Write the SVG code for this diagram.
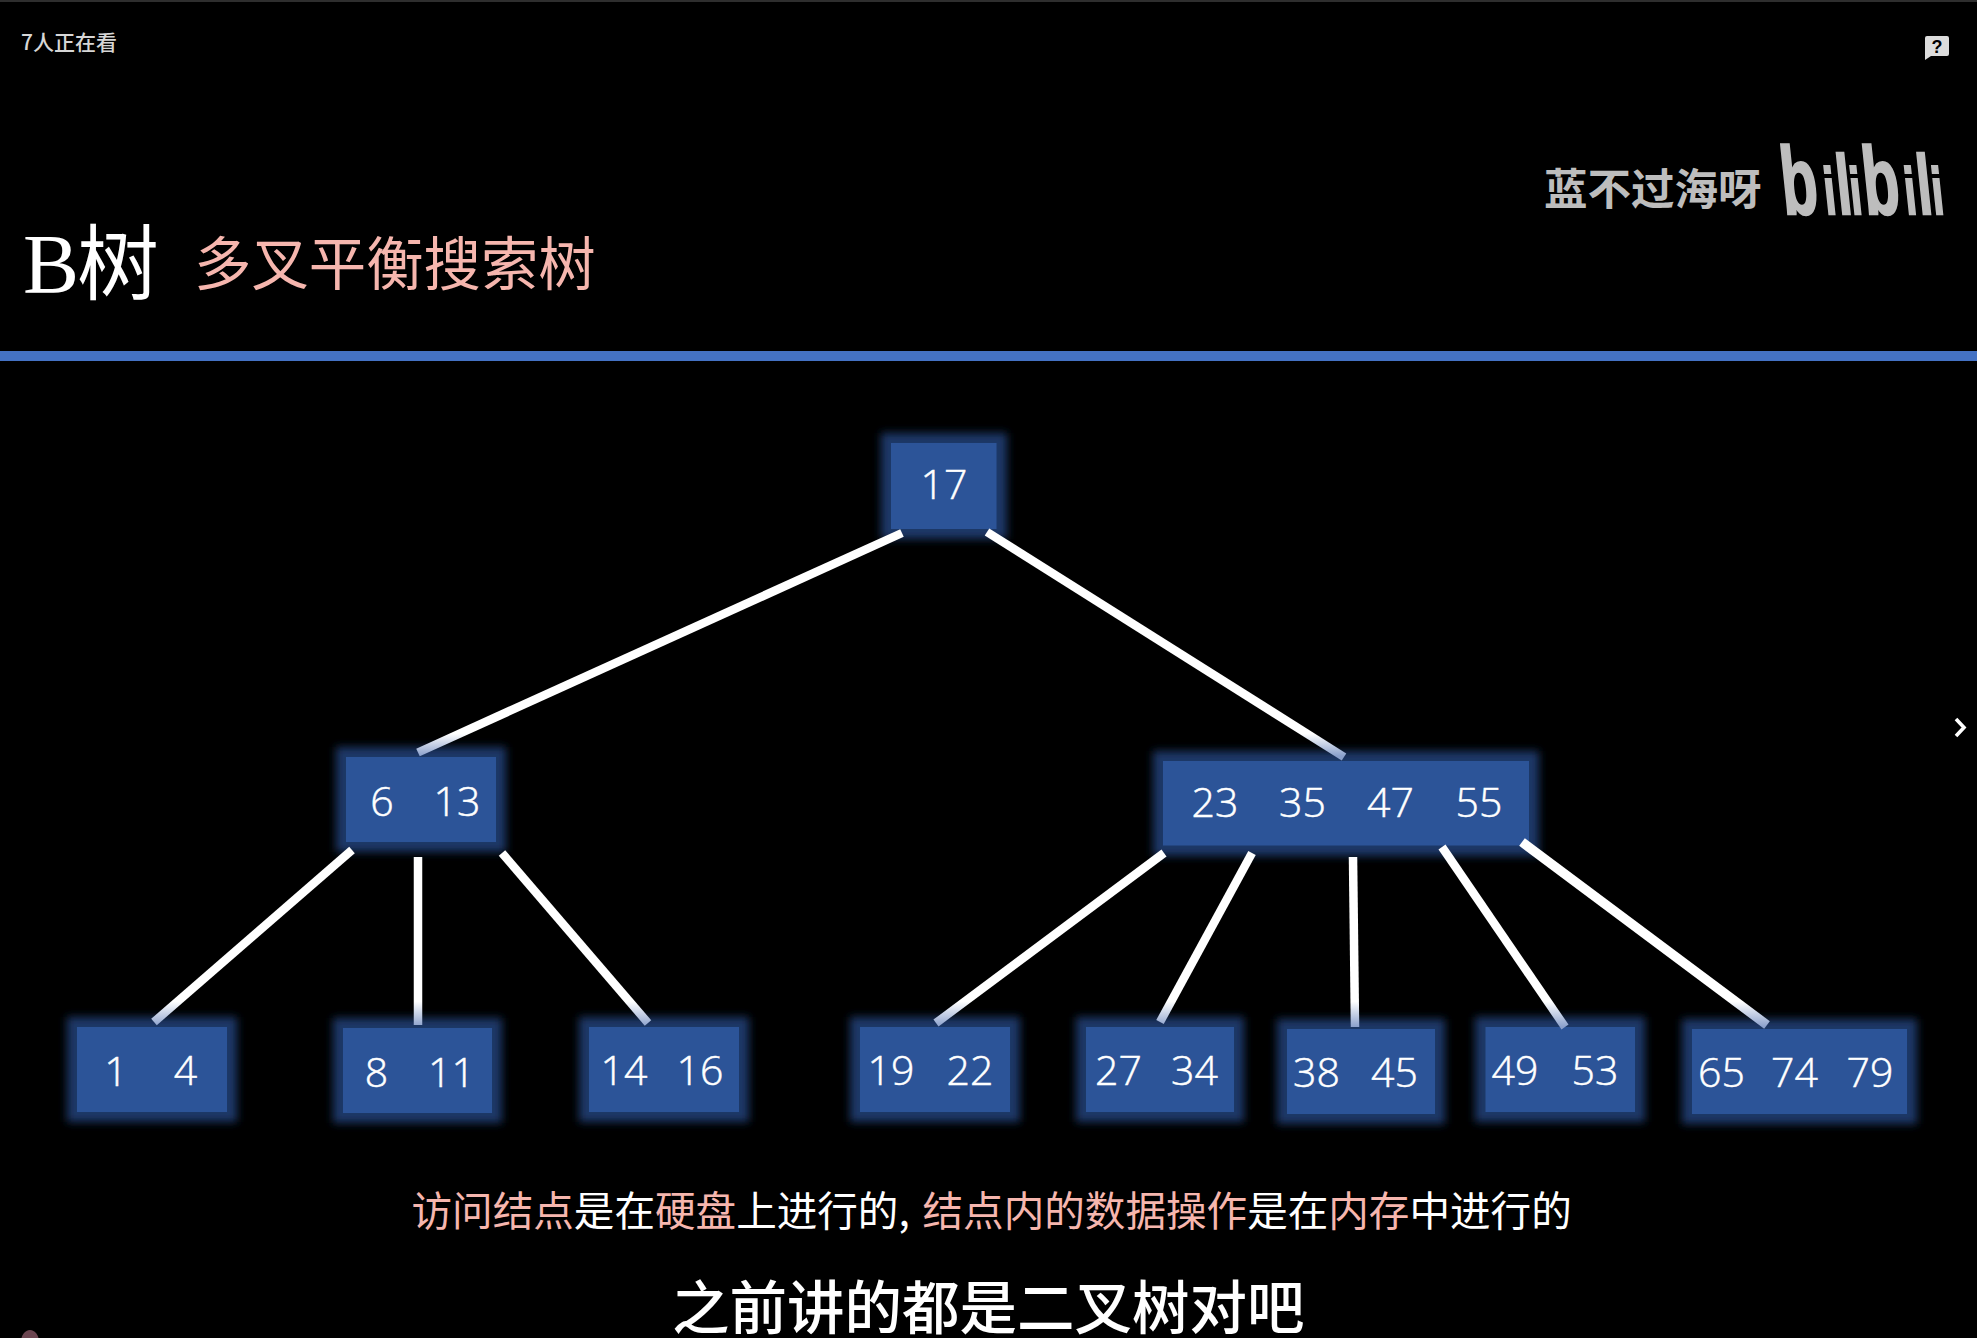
<svg xmlns="http://www.w3.org/2000/svg" width="1977" height="1338" viewBox="0 0 1977 1338">
<style>
text{font-family:"Noto Sans CJK SC","Noto Sans",sans-serif;fill:#fff}
.k{font-family:"Open Sans","Noto Sans",sans-serif;font-size:41px;font-weight:300;text-anchor:middle;stroke:#fff;stroke-width:.5}
.n{fill:#2c5498}
.g{fill:#1a3868;stroke:#1a3868;stroke-width:6;filter:url(#glow)}
.p{fill:#f6b6ae}
.c{fill:none;stroke-width:8.500;stroke:url(#low)}
.u{stroke:url(#up)}
.wm{fill:#bdbdbd}
</style>
<defs>
<filter id="glow" x="-30%" y="-30%" width="160%" height="160%"><feGaussianBlur stdDeviation="4"/></filter>
<linearGradient id="up" gradientUnits="userSpaceOnUse" x1="0" y1="533" x2="0" y2="756"><stop offset=".9" stop-color="#fff"/><stop offset="1" stop-color="#8aa0cc"/></linearGradient>
<linearGradient id="low" gradientUnits="userSpaceOnUse" x1="0" y1="845" x2="0" y2="1027"><stop offset=".86" stop-color="#fff"/><stop offset="1" stop-color="#8aa0cc"/></linearGradient>
</defs>
<rect width="1977" height="1338" fill="#000"/>
<rect width="1977" height="2" fill="#2e2e2e"/>
<rect y="351" width="1977" height="10" fill="#4472c4"/>
<g id="viewers"><text x="21" y="50" font-size="21" style="fill:#d6d6d6" font-weight="500">7人正在看</text></g>
<g id="title">
<text x="23" y="293" font-size="84" style="font-family:'Liberation Serif','Noto Sans CJK SC',serif">B</text>
<text x="77" y="293" font-size="82" font-weight="400">树</text>
<text class="p" x="194" y="285" font-size="57.400" font-weight="400">多叉平衡搜索树</text>
</g>
<g id="watermark">
<text class="wm" x="1544" y="205" font-size="43.500" font-weight="700">蓝不过海呀</text>
<text class="wm" transform="translate(1784,214) skewX(6) scale(.62,1)" style="font-family:'Liberation Sans',sans-serif;font-weight:700;stroke:#bdbdbd;stroke-width:2.500"><tspan x="0" font-size="96">b</tspan><tspan x="68" font-size="66">i</tspan><tspan x="89" font-size="84">l</tspan><tspan x="110" font-size="66">i</tspan><tspan x="132" font-size="96">b</tspan><tspan x="198" font-size="66">i</tspan><tspan x="219" font-size="84">l</tspan><tspan x="242" font-size="66">i</tspan></text>
</g>
<g id="report-icon">
<path d="M1927 36H1947Q1949 36 1949 38V54Q1949 56 1947 56H1931L1925 60V38Q1925 36 1927 36Z" fill="#dcdcdc"/>
<text x="1937" y="53" font-size="18" font-weight="700" text-anchor="middle" style="font-family:'Liberation Sans',sans-serif;fill:#000">?</text>
</g>
<path id="next-chevron" d="M1956 719L1964 727.500L1956 736" fill="none" stroke="#fff" stroke-width="3.600"/>
<ellipse id="corner-mark" cx="30" cy="1342" rx="9" ry="12" fill="#6b4550"/>

<g id="node-17"><rect class="g" x="884" y="436" width="120" height="100"/><rect class="n" x="891" y="443" width="105.500" height="86"/><text class="k" x="944" y="499">17</text></g>
<g id="node-6-13"><rect class="g" x="339" y="750" width="164" height="99"/><rect class="n" x="346" y="757" width="150" height="85"/><text class="k" x="382" y="816">6</text><text class="k" x="457" y="816">13</text></g>
<g id="node-23-35-47-55"><rect class="g" x="1156" y="754" width="380" height="99"/><rect class="n" x="1163" y="761" width="366" height="84.500"/><text class="k" x="1215" y="817">23</text><text class="k" x="1302.500" y="817">35</text><text class="k" x="1390.500" y="817">47</text><text class="k" x="1479" y="817">55</text></g>
<g id="node-1-4"><rect class="g" x="70" y="1020" width="164" height="99"/><rect class="n" x="77" y="1027" width="150" height="85"/><text class="k" x="116" y="1086">1</text><text class="k" x="185.500" y="1085">4</text></g>
<g id="node-8-11"><rect class="g" x="336" y="1021" width="163" height="99"/><rect class="n" x="343" y="1028" width="149" height="85"/><text class="k" x="376.500" y="1087">8</text><text class="k" x="451.500" y="1087">11</text></g>
<g id="node-14-16"><rect class="g" x="582" y="1020" width="164" height="99"/><rect class="n" x="589" y="1027" width="150" height="85"/><text class="k" x="624" y="1085">14</text><text class="k" x="700" y="1085">16</text></g>
<g id="node-19-22"><rect class="g" x="853" y="1020" width="164" height="99"/><rect class="n" x="860" y="1027" width="150" height="85"/><text class="k" x="891" y="1085">19</text><text class="k" x="970" y="1085">22</text></g>
<g id="node-27-34"><rect class="g" x="1079" y="1020" width="162" height="99"/><rect class="n" x="1086" y="1027" width="148" height="85"/><text class="k" x="1118.500" y="1085">27</text><text class="k" x="1194.500" y="1085">34</text></g>
<g id="node-38-45"><rect class="g" x="1280" y="1022" width="162" height="99"/><rect class="n" x="1287" y="1029" width="148" height="85"/><text class="k" x="1316.500" y="1087">38</text><text class="k" x="1394.500" y="1087">45</text></g>
<g id="node-49-53"><rect class="g" x="1478" y="1020" width="164" height="99"/><rect class="n" x="1485.500" y="1027" width="149.500" height="85"/><text class="k" x="1515" y="1085">49</text><text class="k" x="1595" y="1085">53</text></g>
<g id="node-65-74-79"><rect class="g" x="1685" y="1022" width="229" height="99"/><rect class="n" x="1692" y="1029" width="215" height="85"/><text class="k" x="1721.500" y="1087">65</text><text class="k" x="1794.500" y="1087">74</text><text class="k" x="1870" y="1087">79</text></g>

<g id="connectors">
<line class="c u" x1="902" y1="533" x2="418" y2="752.500"/>
<line class="c u" x1="987" y1="532" x2="1344" y2="757"/>
<line class="c" x1="352" y1="850" x2="154" y2="1022"/>
<line class="c" x1="418" y1="857" x2="418" y2="1025"/>
<line class="c" x1="502" y1="853" x2="648" y2="1023"/>
<line class="c" x1="1164" y1="853" x2="936" y2="1023"/>
<line class="c" x1="1252" y1="853" x2="1160" y2="1022"/>
<line class="c" x1="1353" y1="857" x2="1355" y2="1027"/>
<line class="c" x1="1442" y1="847" x2="1565" y2="1027"/>
<line class="c" x1="1522" y1="842" x2="1767" y2="1025" style="stroke-width:9.500"/>
</g>

<g id="note">
<text x="411.500" y="1226" font-size="40.600" font-weight="400"><tspan class="p">访问结点</tspan>是在<tspan class="p">硬盘</tspan>上进行的,<tspan class="p" x="922.500">结点内的数据操作</tspan>是在<tspan class="p">内存</tspan>中进行的</text>
</g>
<g id="subtitle"><text x="672" y="1329" font-size="57.500" font-weight="500">之前讲的都是二叉树对吧</text></g>
</svg>
